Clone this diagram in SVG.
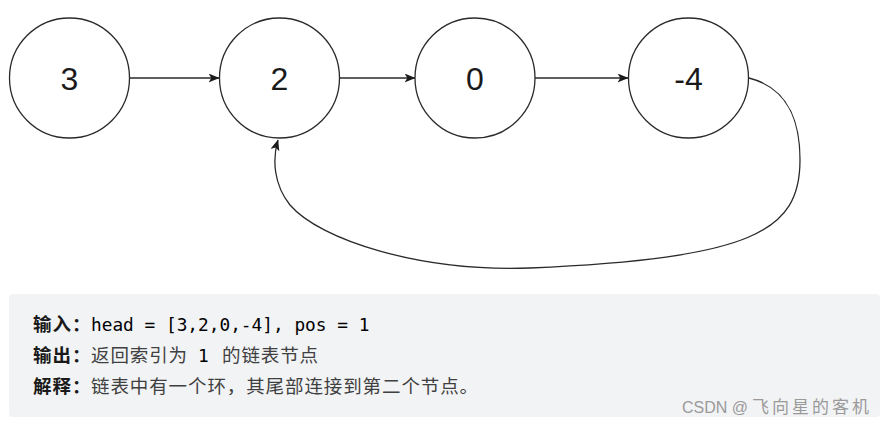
<svg xmlns="http://www.w3.org/2000/svg" width="888" height="425" viewBox="0 0 888 425">
<style>
.node circle{fill:#fff;stroke:#2a2a2a;stroke-width:1.3}
.node text{font-family:"Liberation Sans",Arial,sans-serif;font-size:32px;fill:#1a1a1a;text-anchor:middle}
.conn{fill:none;stroke:#2a2a2a;stroke-width:1.3}
.hd{font-family:"Noto Sans CJK SC",sans-serif;font-weight:bold;font-size:18.5px;fill:#1a1a1a;letter-spacing:1px}
.bd{font-family:"Noto Sans CJK SC",sans-serif;font-size:18.5px;fill:#404040;letter-spacing:0.9px}
.mono{font-family:"DejaVu Sans Mono","Liberation Mono",monospace;font-size:17.8px;fill:#000}
.wm{font-family:"Liberation Sans","Noto Sans CJK SC",sans-serif;fill:#9a9a9a}
</style>
<defs>
<marker id="arr" viewBox="0 0 11 9" refX="10.5" refY="4.5" markerWidth="11" markerHeight="9" markerUnits="userSpaceOnUse" orient="auto">
<path d="M0,0 L11,4.5 L0,9 L2.8,4.5 Z" fill="#1a1a1a"/>
</marker>
</defs>
<rect width="888" height="425" fill="#fff"/>
<g id="connectors">
<path class="conn" d="M130,78 L219,78" marker-end="url(#arr)"/>
<path class="conn" d="M340,78 L415,78" marker-end="url(#arr)"/>
<path class="conn" d="M535,78 L628,78" marker-end="url(#arr)"/>
<path class="conn" d="M749,78 C788,88 800,120 800,160 C800,232 752,258 530,268 C420,272 320,240 290,205 C274,185 272,160 278,140" marker-end="url(#arr)"/>
</g>
<g id="n3" class="node"><circle cx="69.5" cy="78" r="60"/><text x="69.5" y="89.5">3</text></g>
<g id="n2" class="node"><circle cx="279.5" cy="78" r="60"/><text x="279.5" y="89.5">2</text></g>
<g id="n0" class="node"><circle cx="475" cy="78" r="60"/><text x="475" y="89.5">0</text></g>
<g id="n4" class="node"><circle cx="688.5" cy="78" r="60"/><text x="688.5" y="89.5">-4</text></g>
<g id="example">
<rect x="9" y="294" width="871" height="123" rx="4" fill="#f2f3f5"/>
<text x="33" y="331"><tspan class="hd">输入：</tspan><tspan class="mono" x="91">head = [3,2,0,-4], pos = 1</tspan></text>
<text x="33" y="362"><tspan class="hd">输出：</tspan><tspan class="bd" x="91">返回索引为</tspan><tspan class="mono" x="198">1</tspan><tspan class="bd" x="222">的链表节点</tspan></text>
<text x="33" y="393"><tspan class="hd">解释：</tspan><tspan class="bd" x="91">链表中有一个环，其尾部连接到第二个节点。</tspan></text>
<text class="wm" x="682" y="413"><tspan font-size="16">CSDN @</tspan><tspan x="752" font-size="17" letter-spacing="3">飞向星的客机</tspan></text>
</g>
</svg>
